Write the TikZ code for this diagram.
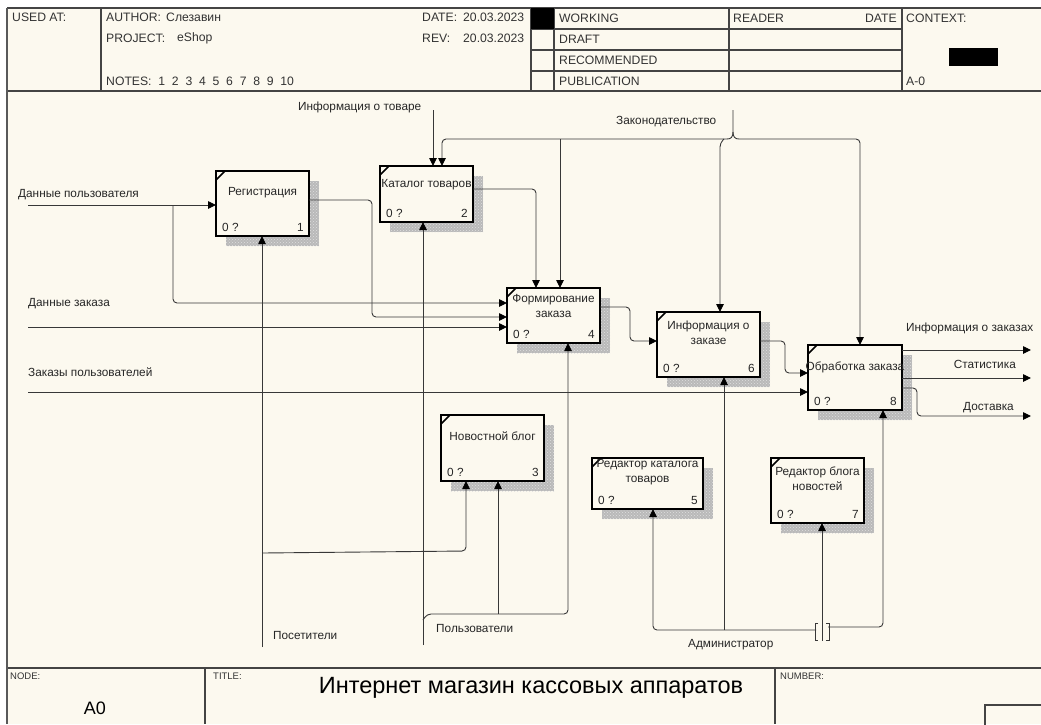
\documentclass[tikz,border=0pt]{standalone}
\usepackage{fontspec}
\setmainfont{Liberation Sans}
\usetikzlibrary{arrows.meta,patterns}
\definecolor{cream}{HTML}{FCF9EF}
\definecolor{linec}{HTML}{383838}
\definecolor{framec}{HTML}{444444}
\tikzset{
  box/.style={draw=black, line width=1.6pt, fill=cream, inner sep=0pt, outer sep=0pt, anchor=north west},
  btext/.style={inner sep=0pt, font=\fontsize{11.8}{15}\selectfont, align=center, text=black!85},
  lbl/.style={inner sep=0pt, font=\fontsize{11.8}{14}\selectfont, text=black!85},
  hdr/.style={inner sep=0pt, font=\fontsize{12.2}{14}\selectfont, text=black!80, anchor=west},
  ftr/.style={inner sep=0pt, font=\fontsize{9.5}{11}\selectfont, text=black!80, anchor=west},
  conn/.style={draw=linec, line width=0.9pt, rounded corners=4pt},
  arr/.style={-{Triangle[length=8pt,width=7.5pt,color=black]}},
  frm/.style={draw=framec, line width=1.2pt},
}
\newcommand\idefbox[8]{%
  \fill[gray!55] (#2+10,#3+10) rectangle (#4+10,#5+10);
  \fill[pattern=crosshatch dots, pattern color=white!75!gray] (#2+10,#3+10) rectangle (#4+10,#5+10);
  \node[box, minimum width={(#4-#2)*1pt}, minimum height={(#5-#3)*1pt}] (#1) at (#2,#3) {};
  \draw[line width=1.6pt] (#2,#3+9) -- (#2+9,#3);
  \node[btext, anchor=north] at ({(#2+#4)/2},#6) {#7};
  \node[btext, anchor=west] at (#2+6,#5-9) {0 ?};
  \node[btext, anchor=east] at (#4-5,#5-9) {#8};
}
\begin{document}
\begin{tikzpicture}[x=1pt,y=-1pt]
\useasboundingbox (0,0) rectangle (1041,724);
\fill[white] (0,0) rectangle (1041,724);
\fill[cream] (7,8) rectangle (1041,724);

% ---------- header ----------
\draw[frm] (7,8) -- (1041,8);
\draw[frm] (7,91) -- (1041,91);
\foreach \xx in {101,531,554,729,902} \draw[frm] (\xx,8) -- (\xx,91);
\foreach \yy in {29,50,71} \draw[frm] (531,\yy) -- (902,\yy);
\fill[black] (531,8) rectangle (554,29);
\fill[black] (949,48) rectangle (998,66);
\node[hdr] (usedat) at (12,17) {USED AT:};
\node[hdr] (author) at (106,17) {AUTHOR:};
\node[hdr] (authorv) at (166,17) {Слезавин};
\node[hdr] (project) at (106,38) {PROJECT:};
\node[hdr] (projectv) at (177,38) {eShop};
\node[hdr] (notes) at (106,81) {NOTES:\ \ 1\ \ 2\ \ 3\ \ 4\ \ 5\ \ 6\ \ 7\ \ 8\ \ 9\ \ 10};
\node[hdr] (date) at (422,17) {DATE:};
\node[hdr] (datev) at (463,17) {20.03.2023};
\node[hdr] (rev) at (422,38) {REV:};
\node[hdr] (revv) at (463,38) {20.03.2023};
\node[hdr] (working) at (559,18) {WORKING};
\node[hdr] (draft) at (559,39) {DRAFT};
\node[hdr] (recom) at (559,60) {RECOMMENDED};
\node[hdr] (publ) at (559,81) {PUBLICATION};
\node[hdr] (reader) at (733,18) {READER};
\node[hdr, anchor=east] (rdate) at (897,18) {DATE};
\node[hdr] (context) at (906,18) {CONTEXT:};
\node[hdr] (aminus) at (906,81) {A-0};

% ---------- footer ----------
\draw[frm] (7,668) -- (1041,668);
\draw[frm] (205,668) -- (205,724);
\draw[frm] (775,668) -- (775,724);
\draw[frm] (985,705) rectangle (1045,728);
\node[ftr] (nodel) at (10,676) {NODE:};
\node[ftr] (titlel) at (213,676) {TITLE:};
\node[ftr] (numberl) at (780,676) {NUMBER:};
\node[inner sep=0pt, font=\fontsize{18}{20}\selectfont] (a0) at (95,708) {A0};
\node[inner sep=0pt, font=\fontsize{23.5}{26}\selectfont] (title) at (531,688) {Интернет магазин кассовых аппаратов};

\draw[draw=gray!70!black, line width=2.5pt] (7,8) -- (7,724);

% ---------- boxes ----------
\idefbox{b1}{216}{171}{309}{236}{187}{Регистрация}{1}
\idefbox{b2}{380}{166}{473}{222}{179}{Каталог товаров}{2}
\idefbox{b4}{507}{288}{600}{343}{294}{Формирование\\заказа}{4}
\idefbox{b6}{657}{312}{760}{377}{321}{Информация о\\заказе}{6}
\idefbox{b8}{808}{345}{902}{410}{362}{Обработка заказа}{8}
\idefbox{b3}{441}{415}{544}{481}{432}{Новостной блог}{3}
\idefbox{b5}{592}{458}{703}{509}{459}{Редактор каталога\\товаров}{5}
\idefbox{b7}{771}{458}{864}{523}{467}{Редактор блога\\новостей}{7}

% ---------- inputs ----------
\coordinate (inUser) at (28,205);
\coordinate (inUserJ) at (173,205);
\draw[conn,arr] (inUser) -- (b1.west |- 0,205);
\draw[conn,arr] (inUserJ) -- (173,303) -- (b4.west |- 0,303);
\draw[conn,arr] (b1.east |- 0,200) -- (372,200) -- (372,317) -- (b4.west |- 0,317);
\coordinate (inOrder) at (28,327);
\draw[conn,arr] (inOrder) -- (b4.west |- 0,327);
\coordinate (inOrders) at (28,392);
\draw[conn,arr] (inOrders) -- (b8.west |- 0,392);
\draw[conn,arr] (b2.east |- 0,189) -- (536,189) -- (b4.north -| 536,0);
\draw[conn,arr] (b4.east |- 0,307) -- (630,307) -- (630,341) -- (b6.west |- 0,341);
\draw[conn,arr] (b6.east |- 0,341) -- (785,341) -- (785,373) -- (b8.west |- 0,373);

% ---------- controls ----------
\coordinate (ctlInfo) at (433,110);
\draw[conn,arr] (ctlInfo) -- (b2.north -| 433,0);
\coordinate (ctlLaw) at (733,110);
\draw[draw=linec, line width=0.9pt] (ctlLaw) -- (733,132) .. controls (733,137) and (731,139) .. (727,139);
\draw[draw=linec, line width=0.9pt] (733,132) .. controls (733,137) and (735,139) .. (739,139);
\draw[conn,arr] (727,139) -- (442,139) -- (b2.north -| 442,0);
\draw[conn,arr] (560,139) -- (b4.north -| 560,0);
\draw[conn,arr] (724,139) -- (720,143) -- (b6.north -| 720,0);
\draw[conn,arr] (739,139) -- (860,139) -- (b8.north -| 860,0);

% ---------- outputs ----------
\coordinate (outInfo) at (1031,350);
\coordinate (outStat) at (1031,378);
\coordinate (outDel) at (1031,416);
\draw[conn,arr] (b8.east |- 0,350) -- (outInfo);
\draw[conn,arr] (b8.east |- 0,378) -- (outStat);
\draw[conn,arr] (b8.east |- 0,388) -- (917,388) -- (917,416) -- (outDel);

% ---------- mechanisms ----------
\coordinate (mVis) at (262,647);
\draw[conn,arr] (mVis) -- (b1.south -| 262,0);
\draw[conn,arr] (262,553) -- (466,551) -- (b3.south -| 466,0);
\coordinate (mUsr) at (423,645);
\draw[conn,arr] (mUsr) -- (b2.south -| 423,0);
\draw[conn,arr] (423,620) -- (427,614) -- (568,614) -- (b4.south -| 568,0);
\draw[conn,arr] (498,614) -- (b3.south -| 498,0);
\coordinate (mAdm) at (822,632);
\draw[conn,arr] (816,630) -- (653,630) -- (b5.south -| 653,0);
\draw[conn,arr] (724,630) -- (b6.south -| 724,0);
\draw[conn,arr] (mAdm) -- (b7.south -| 822,0);
\draw[conn,arr] (828,627) -- (883,627) -- (b8.south -| 883,0);
\draw[draw=linec, line width=0.8pt] (818,623) -- (815,623) -- (815,640) -- (818,640);
\draw[draw=linec, line width=0.8pt] (826,623) -- (829,623) -- (829,640) -- (826,640);
\draw[draw=linec, line width=0.8pt] (822,632) -- (822,641);

% ---------- labels ----------
\node[lbl, anchor=west] (lInfoT) at (298,107) {Информация о товаре};
\node[lbl, anchor=west] (lLaw) at (616,122) {Законодательство};
\node[lbl, anchor=west] (lUser) at (18,195) {Данные пользователя};
\node[lbl, anchor=west] (lOrder) at (28,304) {Данные заказа};
\node[lbl, anchor=west] (lOrders) at (28,372) {Заказы пользователей};
\node[lbl, anchor=west] (lOInfo) at (906,328) {Информация о заказах};
\node[lbl, anchor=east] (lStat) at (1016,364) {Статистика};
\node[lbl, anchor=east] (lDel) at (1014,408) {Доставка};
\node[lbl, anchor=west] (lVis) at (273,635) {Посетители};
\node[lbl, anchor=west] (lUsr) at (436,628) {Пользователи};
\node[lbl, anchor=west] (lAdm) at (688,645) {Администратор};
\end{tikzpicture}
\end{document}
